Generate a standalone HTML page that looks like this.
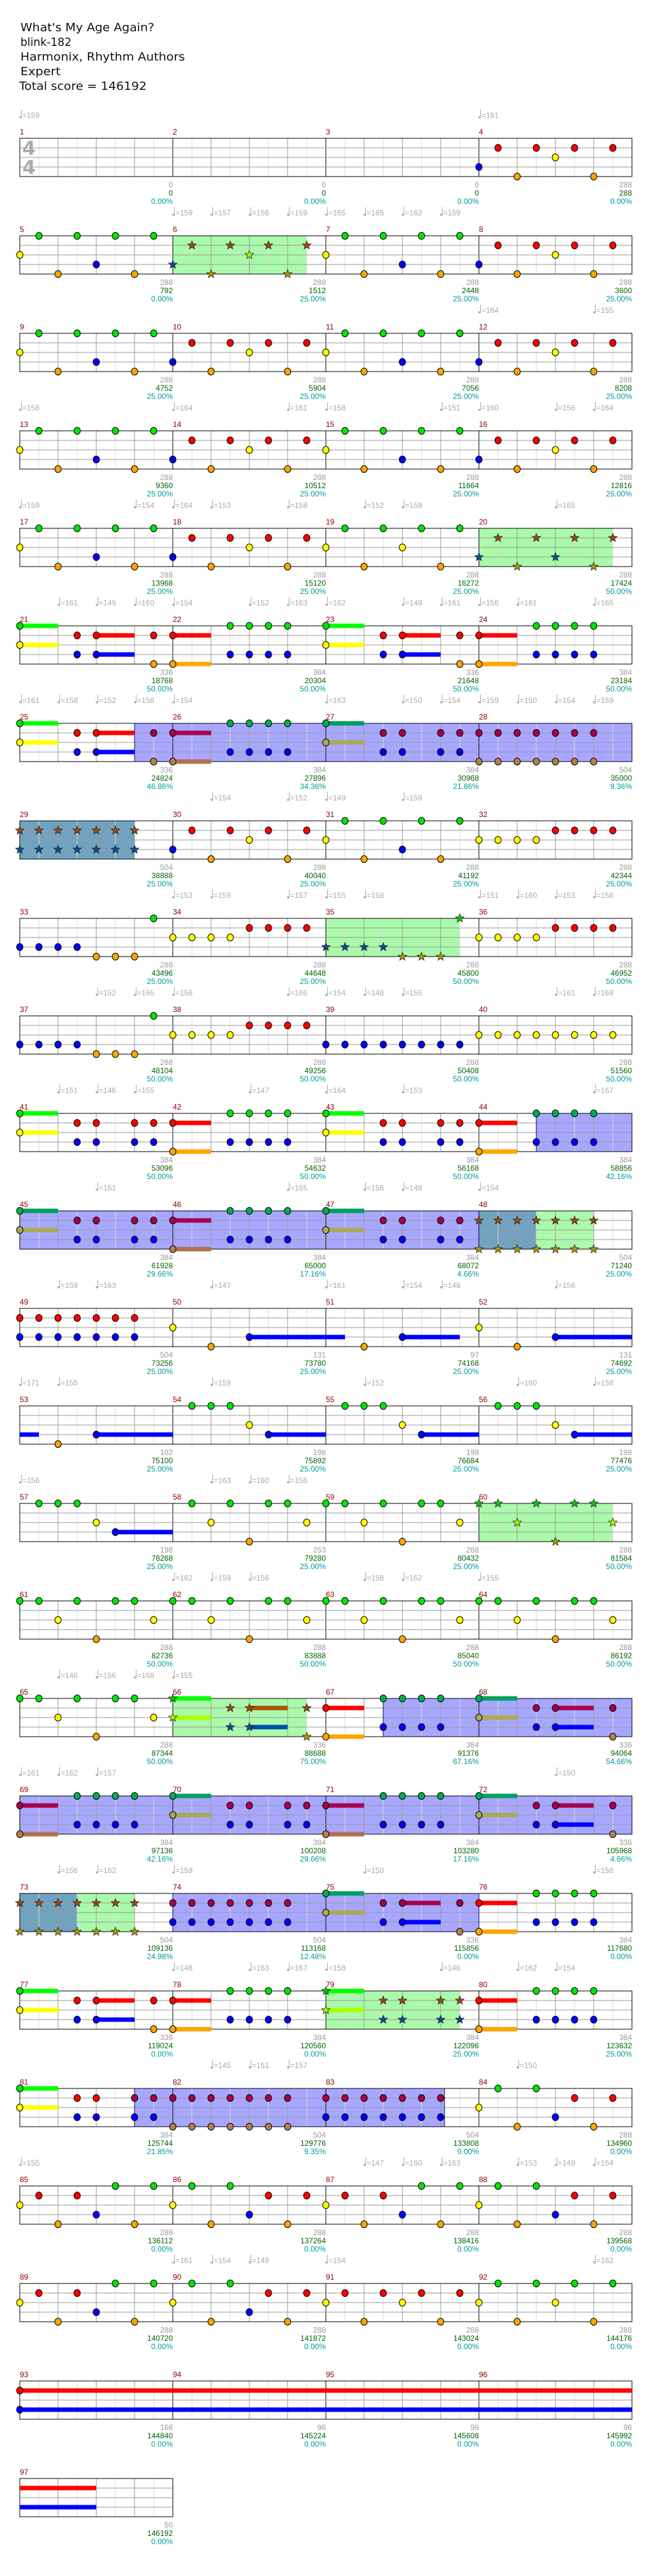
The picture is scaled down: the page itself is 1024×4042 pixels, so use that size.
<!DOCTYPE html>
<html><head><meta charset="utf-8">
<style>
html,body{margin:0;padding:0;background:#fff;width:1024px;height:4042px;overflow:hidden}
svg{display:block}
</style></head>
<body>
<svg id="s" xmlns="http://www.w3.org/2000/svg" width="1024" height="4042" viewBox="0 0 1024 4042">
<rect width="1024" height="4042" fill="#fff"/>
<g font-family="DejaVu Sans, sans-serif" fill="#111" font-size="18">
<text x="32" y="49" textLength="210" lengthAdjust="spacingAndGlyphs">What's My Age Again?</text>
<text x="32" y="72" textLength="80" lengthAdjust="spacingAndGlyphs">blink-182</text>
<text x="32" y="95" textLength="258" lengthAdjust="spacingAndGlyphs">Harmonix, Rhythm Authors</text>
<text x="32" y="118" textLength="63" lengthAdjust="spacingAndGlyphs">Expert</text>
<text x="30" y="141" textLength="200" lengthAdjust="spacingAndGlyphs">Total score = 146192</text>
</g>
<g id="chart"></g>
</svg>
<script>
(function(){
var P1="0Y 1G 2O 3G 4B 5G 6O 7G 8B 9R 10O 11R 12Y 13R 14O 15R 16Y 17G 18O 19G 20B 21G 22O 23G 24B 25R 26O 27R 28Y 29R 30O 31R";
var P4="0Y 1G 2O 3G 4B 5G 6O 7G 8B 9R 10O 11R 12Y 13R 14O 15R 16Y 17G 18O 19G 20Y 21G 22O 23G 24B 25R 26O 27R 28B 29R 30O 31R";
var P15="0G 1G 2Y 3G 4O 5G 6G 7Y 8G 9G 10Y 11G 12O 13G 14G 15Y 16G 17G 18Y 19G 20O 21G 22G 23Y 24G 25G 26Y 27G 28O 29G 30G 31Y";
var rows=[
{n:"24B 25R 26O 27R 28Y 29R 30O 31R"},
{n:P1,g:[[8,15]]},
{n:P1},{n:P1},
{n:P4,g:[[24,31]]},
{n:"0GY 3RB 4RB 7RO 8RO 11GB 12GB 13GB 14GB 16GY 19RB 20RB 23RO 24RO 27GB 28GB 29GB 30GB",s:"0G2 0Y2 4R2 4B2 8R2 8O2 16G2 16Y2 20R2 20B2 24R2 24O2"},
{n:"0GY 3RB 4RB 7RO 8RO 11GB 12GB 13GB 14GB 16GY 19RB 20RB 22RB 23RB 24RO 25RO 26RO 27RO 28RO 29RO 30RO",s:"0G2 0Y2 4R2 4B2 8R2 8O2 16G2 16Y2",b:[[6,32]]},
{n:"0RB 1RB 2RB 3RB 4RB 5RB 6RB 8B 9R 10O 11R 12Y 13R 14O 15R 16Y 17G 18O 19G 20B 21G 22O 23G 24Y 25Y 26Y 27Y 28R 29R 30R 31R",t:[[0,6]]},
{n:"0B 1B 2B 3B 4O 5O 6O 7G 8Y 9Y 10Y 11Y 12R 13R 14R 15R 16B 17B 18B 19B 20O 21O 22O 23G 24Y 25Y 26Y 27Y 28R 29R 30R 31R",g:[[16,23]]},
{n:"0B 1B 2B 3B 4O 5O 6O 7G 8Y 9Y 10Y 11Y 12R 13R 14R 15R 16B 17B 18B 19B 20B 21B 22B 23B 24Y 25Y 26Y 27Y 28Y 29Y 30Y 31Y"},
{n:"0GY 3RB 4RB 6RB 7RB 8RO 11GB 12GB 13GB 14GB 16GY 19RB 20RB 22RB 23RB 24RO 27GB 28GB 29GB 30GB",s:"0G2 0Y2 8R2 8O2 16G2 16Y2 24R2 24O2",b:[[27,32]]},
{n:"0GY 3RB 4RB 6RB 7RB 8RO 11GB 12GB 13GB 14GB 16GY 19RB 20RB 22RB 23RB 24RO 25RO 26RO 27RO 28RO 29RO 30RO",s:"0G2 0Y2 8R2 8O2 16G2 16Y2",b:[[0,24]],t:[[24,27]],g:[[27,30]]},
{n:"0RB 1RB 2RB 3RB 4RB 5RB 6RB 8Y 10O 12B 18O 20B 24Y 26O 28B",s:"12B5 20B3 28B4"},
{n:"2O 4B 9G 10G 11G 12Y 13B 17G 18G 19G 20Y 21B 25G 26G 27G 28Y 29B",s:"0B1 4B4 13B3 21B3 29B3",nohead:1},
{n:"1G 2G 3G 4Y 5B 9G 10Y 11G 12O 13G 14G 15Y 16G 17G 18Y 19G 20O 21G 22G 23Y 24G 25G 26Y 27G 28O 29G 30G 31Y",s:"5B3",g:[[24,31]]},
{n:P15},
{n:"0G 1G 2Y 3G 4O 5G 6G 7Y 8GY 11RB 12RB 15RO 16RO 19GB 20GB 21GB 22GB 24GY 27RB 28RB 31RO",s:"8G2 8Y2 12R2 12B2 16R2 16O2 24G2 24Y2 28R2 28B2",g:[[8,15]],b:[[19,32]]},
{n:"0RO 3GB 4GB 5GB 6GB 8GY 11RB 12RB 14RB 15RB 16RO 19GB 20GB 21GB 22GB 24GY 27RB 28RB 31RO",s:"0R2 0O2 8G2 8Y2 16R2 16O2 24G2 24Y2 28R2 28B2",b:[[0,32]]},
{n:"0RO 1RO 2RO 3RO 4RO 5RO 6RO 8RB 9RB 10RB 11RB 12RB 13RB 14RB 16GY 19RB 20RB 23RO 24RO 27GB 28GB 29GB 30GB",s:"16G2 16Y2 20R2 20B2 24R2 24O2",t:[[0,3]],g:[[3,6]],b:[[8,24]]},
{n:"0GY 3RB 4RB 7RO 8RO 11GB 12GB 13GB 14GB 16GY 19RB 20RB 22RB 23RB 24RO 27GB 28GB 29GB 30GB",s:"0G2 0Y2 4R2 4B2 8R2 8O2 16G2 16Y2 24R2 24O2",g:[[16,23]]},
{n:"0GY 3RB 4RB 6RB 7RB 8RO 9RO 10RO 11RO 12RO 13RO 14RO 16RB 17RB 18RB 19RB 20RB 21RB 22RB 24Y 25G 26O 27G 28B 29R 30O 31R",s:"0G2 0Y2",b:[[6,22.2]]},
{n:"0Y 1R 2O 3R 4B 5G 6O 7G 8Y 9G 10O 11G 12B 13R 14O 15R 16Y 17R 18O 19R 20B 21G 22O 23G 24Y 25G 26O 27G 28B 29R 30O 31R"},
{n:"0Y 1R 2O 3R 4B 5G 6O 7G 8Y 9G 10O 11G 12B 13R 14O 15R 16Y 17R 18O 19R 20Y 21R 22O 23R 24Y 25G 26O 27G 28Y 29G 30O 31G"},
{n:"0RB",s:"0R32 0B32"},
{n:"",s:"0R4 0B4",m:1}
];
var foot=[
["0","0","0.00%"],["0","0","0.00%"],["0","0","0.00%"],["288","288","0.00%"],
["288","792","0.00%"],["288","1512","25.00%"],["288","2448","25.00%"],["288","3600","25.00%"],
["288","4752","25.00%"],["288","5904","25.00%"],["288","7056","25.00%"],["288","8208","25.00%"],
["288","9360","25.00%"],["288","10512","25.00%"],["288","11664","25.00%"],["288","12816","25.00%"],
["288","13968","25.00%"],["288","15120","25.00%"],["288","16272","25.00%"],["288","17424","50.00%"],
["336","18768","50.00%"],["384","20304","50.00%"],["336","21648","50.00%"],["384","23184","50.00%"],
["336","24824","46.86%"],["384","27896","34.36%"],["384","30968","21.86%"],["504","35000","9.36%"],
["504","38888","25.00%"],["288","40040","25.00%"],["288","41192","25.00%"],["288","42344","25.00%"],
["288","43496","25.00%"],["288","44648","25.00%"],["288","45800","50.00%"],["288","46952","50.00%"],
["288","48104","50.00%"],["288","49256","50.00%"],["288","50408","50.00%"],["288","51560","50.00%"],
["384","53096","50.00%"],["384","54632","50.00%"],["384","56168","50.00%"],["384","58856","42.16%"],
["384","61928","29.66%"],["384","65000","17.16%"],["384","68072","4.66%"],["504","71240","25.00%"],
["504","73256","25.00%"],["131","73780","25.00%"],["97","74168","25.00%"],["131","74692","25.00%"],
["102","75100","25.00%"],["198","75892","25.00%"],["198","76684","25.00%"],["198","77476","25.00%"],
["198","78268","25.00%"],["253","79280","25.00%"],["288","80432","25.00%"],["288","81584","50.00%"],
["288","82736","50.00%"],["288","83888","50.00%"],["288","85040","50.00%"],["288","86192","50.00%"],
["288","87344","50.00%"],["336","88688","75.00%"],["384","91376","67.16%"],["336","94064","54.66%"],
["384","97136","42.16%"],["384","100208","29.66%"],["384","103280","17.16%"],["336","105968","4.66%"],
["504","109136","24.98%"],["504","113168","12.48%"],["336","115856","0.00%"],["384","117680","0.00%"],
["336","119024","0.00%"],["384","120560","0.00%"],["384","122096","25.00%"],["384","123632","25.00%"],
["384","125744","21.85%"],["504","129776","9.35%"],["504","133808","0.00%"],["288","134960","0.00%"],
["288","136112","0.00%"],["288","137264","0.00%"],["288","138416","0.00%"],["288","139568","0.00%"],
["288","140720","0.00%"],["288","141872","0.00%"],["288","143024","0.00%"],["288","144176","0.00%"],
["166","144840","0.00%"],["96","145224","0.00%"],["96","145608","0.00%"],["96","145992","0.00%"],
["50","146192","0.00%"]];
var tempo=[
"0:159 24:161","8:159 10:157 12:156 14:159 16:165 18:165 20:162 22:159","24:164 30:155",
"0:158 8:164 14:161 16:158 22:151 24:160 28:156 30:164","0:159 6:154 8:164 10:153 14:158 18:152 20:159 28:165",
"2:161 4:149 6:160 8:154 12:152 14:163 16:162 20:149 22:161 24:156 26:161 30:165",
"0:161 2:158 4:152 6:158 8:154 16:163 20:150 22:154 24:159 26:150 28:154 30:159",
"10:154 14:152 16:149 20:159","8:153 10:159 14:157 16:155 18:158 24:151 26:160 28:153 30:158",
"4:152 6:165 8:156 14:166 16:154 18:148 20:155 28:161 30:168","2:151 4:146 6:155 12:147 16:164 20:153 30:167",
"4:151 14:165 18:156 20:148 24:154","2:159 4:163 10:147 16:161 20:154 22:148 28:156",
"0:171 2:155 10:159 18:152 26:160 30:158","0:156 10:163 12:160 14:156","8:162 10:159 12:156 18:158 20:162 24:155",
"2:146 4:156 6:168 8:155","0:161 2:162 4:157 28:150","2:156 4:162 8:159 18:150 30:158",
"8:148 12:163 14:167 16:158 22:146 26:162 28:154","10:145 12:151 14:157 26:150",
"0:155 18:147 20:160 22:163 26:153 28:149 30:154","8:161 10:154 12:148 16:154 30:162","",""];
var COL={G:"#00e600",R:"#ff0000",Y:"#ffff00",B:"#0000ff",O:"#ffa500"};
var SPC={G:"#00b050",R:"#a8004f",Y:"#aaaa55",B:"#0000ff",O:"#b5804a"};
var STC={G:"#00cc00",R:"#a04a00",Y:"#aaff00",B:"#0050a0",O:"#aa9900"};
var SUSC={G:"#00ff00",R:"#ff0000",Y:"#ffff00",B:"#0000ff",O:"#ffa500"};
var SUSP={G:"#00a060",R:"#a8004f",Y:"#aaaa55",B:"#0000ff",O:"#b07050"};
var SUSS={G:"#00ff00",R:"#aa5500",Y:"#aaff00",B:"#0050aa",O:"#aa9900"};
var LN={G:0,R:1,Y:2,B:3,O:4};
var h=[];
function inR(p,arr,incl){if(!arr)return false;for(var i=0;i<arr.length;i++){if(p>=arr[i][0]&&(incl?p<=arr[i][1]+0.01:p<arr[i][1]))return true;}return false;}
function star(cx,cy,r,fill){var pts=[];for(var i=0;i<10;i++){var a=-Math.PI/2+i*Math.PI/5;var rr=i%2?r*0.42:r;pts.push((cx+rr*Math.cos(a)).toFixed(1)+","+(cy+rr*Math.sin(a)).toFixed(1));}
return '<polygon points="'+pts.join(" ")+'" fill="'+fill+'" stroke="#222" stroke-width="0.8"/>';}
var mnum=1;
for(var r=0;r<rows.length;r++){
 var R=rows[r], top=217+153*r, nm=R.m||4, W=240*nm, X0=31;
 // regions
 (R.b||[]).forEach(function(a){h.push('<rect x="'+(X0+a[0]*30)+'" y="'+top+'" width="'+((a[1]-a[0])*30)+'" height="60" fill="#5050ff" fill-opacity="0.5"/>');});
 (R.g||[]).forEach(function(a){h.push('<rect x="'+(X0+a[0]*30)+'" y="'+top+'" width="'+((a[1]-a[0])*30)+'" height="60" fill="#00ee00" fill-opacity="0.33"/>');});
 (R.t||[]).forEach(function(a){h.push('<rect x="'+(X0+a[0]*30)+'" y="'+top+'" width="'+((a[1]-a[0])*30)+'" height="60" fill="#1a6a9a" fill-opacity="0.62"/>');});
 // grid
 for(var k=1;k<nm*8;k++){var x=X0+k*30;var c=(k%8==0)?"#000":(k%2==0?"#999":"#ddd");h.push('<line x1="'+x+'" y1="'+top+'" x2="'+x+'" y2="'+(top+60)+'" stroke="'+c+'" stroke-width="1" shape-rendering="crispEdges"/>');}
 for(var l=1;l<4;l++){h.push('<line x1="'+X0+'" y1="'+(top+15*l)+'" x2="'+(X0+W)+'" y2="'+(top+15*l)+'" stroke="#999" stroke-width="1" shape-rendering="crispEdges"/>');}
 (R.b||[]).forEach(function(a){h.push('<rect x="'+(X0+a[0]*30)+'" y="'+top+'" width="'+((a[1]-a[0])*30)+'" height="60" fill="none" stroke="#000070" stroke-width="1"/>');});
 h.push('<rect x="'+X0+'" y="'+top+'" width="'+W+'" height="60" fill="none" stroke="#000" stroke-width="1" shape-rendering="crispEdges"/>');
 if(r==0){h.push('<text x="35" y="243" font-family="DejaVu Sans, sans-serif" font-size="30" font-weight="bold" fill="#aaa">4</text><text x="35" y="273" font-family="DejaVu Sans, sans-serif" font-size="30" font-weight="bold" fill="#aaa">4</text>');}
 // sustains
 if(R.s){R.s.split(" ").forEach(function(tk){var m=tk.match(/^(\d+)([GRYBO])(\d+)$/);var p=+m[1],ln=m[2],len=+m[3];
  var col=inR(p,R.g,1)||inR(p,R.t,1)?SUSS[ln]:(inR(p,R.b,0)?SUSP[ln]:SUSC[ln]);
  h.push('<rect x="'+(X0+p*30)+'" y="'+(top+LN[ln]*15-3.5)+'" width="'+(len*30)+'" height="7" fill="'+col+'"/>');});}
 // notes
 if(R.n){R.n.split(" ").forEach(function(tk){var m=tk.match(/^(\d+)([GRYBO]+)$/);var p=+m[1];var x=X0+p*30;
  m[2].split("").forEach(function(ln){var y=top+LN[ln]*15;
   if(inR(p,R.g,1)||inR(p,R.t,1)){h.push(star(x,y,7,STC[ln]));}
   else{var c=inR(p,R.b,0)?SPC[ln]:COL[ln];h.push('<ellipse cx="'+x+'" cy="'+y+'" rx="5" ry="5.5" fill="'+c+'" stroke="#000" stroke-width="1"/>');}
  });});}
 // measure numbers + footers
 for(var q=0;q<nm;q++){var mx=X0+q*240;var ex=mx+240;var f=foot[mnum-1];
  h.push('<text x="'+(mx)+'" y="'+(top-6)+'" font-family="Liberation Sans, sans-serif" font-size="12" fill="#8b0000">'+mnum+'</text>');
  h.push('<text x="'+ex+'" y="'+(top+77)+'" text-anchor="end" font-family="Liberation Sans, sans-serif" font-size="12" fill="#999">'+f[0]+'</text>');
  h.push('<text x="'+ex+'" y="'+(top+90)+'" text-anchor="end" font-family="Liberation Sans, sans-serif" font-size="12" fill="#006400">'+f[1]+'</text>');
  h.push('<text x="'+ex+'" y="'+(top+103)+'" text-anchor="end" font-family="Liberation Sans, sans-serif" font-size="12" fill="#009999">'+f[2]+'</text>');
  mnum++;}
 // tempo
 if(tempo[r]){tempo[r].split(" ").forEach(function(tk){var a=tk.split(":");var x=X0+(+a[0])*30;var y=top-37;
  h.push('<line x1="'+(x+2.5)+'" y1="'+(y-8)+'" x2="'+(x+2.5)+'" y2="'+(y+4)+'" stroke="#aaa" stroke-width="1"/><ellipse cx="'+(x+1)+'" cy="'+(y+4)+'" rx="2" ry="1.6" fill="#aaa"/>');
  h.push('<text x="'+(x+4)+'" y="'+(y+5)+'" font-family="Liberation Sans, sans-serif" font-size="12" fill="#aaa">='+a[1]+'</text>');});}
}
document.getElementById("chart").innerHTML=h.join("");
})();
</script>
</body></html>
